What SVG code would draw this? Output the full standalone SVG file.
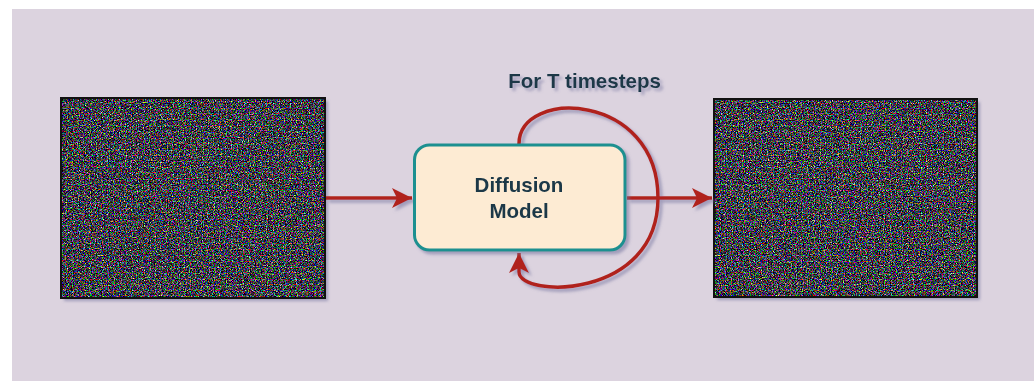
<svg xmlns="http://www.w3.org/2000/svg" width="1034" height="381" viewBox="0 0 1034 381">
  <style>
    .lbl { font-family: "Liberation Sans", Arial, sans-serif; font-weight: bold; font-size: 20.5px; fill: #1a3747; text-anchor: middle; }
    .conn { fill: none; stroke: #b0241c; stroke-width: 3.5; }
    .frame { fill: none; stroke: #111111; stroke-width: 2; }
  </style>
  <defs>
    <filter id="shadow" x="-10%" y="-10%" width="130%" height="140%">
      <feDropShadow dx="3" dy="3" stdDeviation="1.6" flood-color="#6f6f9c" flood-opacity="0.55"/>
    </filter>
    <filter id="noise" x="0" y="0" width="1" height="1" filterUnits="objectBoundingBox" color-interpolation-filters="sRGB">
      <feTurbulence type="fractalNoise" baseFrequency="0.83" numOctaves="2" seed="11" result="t"/>
      <feComponentTransfer in="t">
        <feFuncR type="linear" slope="3.0" intercept="-1.3"/>
        <feFuncG type="linear" slope="3.0" intercept="-1.3"/>
        <feFuncB type="linear" slope="3.0" intercept="-1.25"/>
        <feFuncA type="linear" slope="0" intercept="1"/>
      </feComponentTransfer>
    </filter>
    <marker id="arrow" markerUnits="userSpaceOnUse" markerWidth="24" markerHeight="24" refX="20" refY="11" orient="auto">
      <path d="M0,1 L20,11 L0,21 L5,11 z" fill="#b0241c"/>
    </marker>
  </defs>

  <rect x="0" y="0" width="1034" height="381" fill="#ffffff"/>
  <rect x="12" y="9" width="1022" height="372" fill="#dcd3df"/>

  <g id="input-image">
    <rect x="61" y="98" width="264" height="200" fill="#3a2f3a" filter="url(#shadow)"/>
    <rect x="61" y="98" width="264" height="200" fill="#000" filter="url(#noise)"/>
    <rect x="61" y="98" width="264" height="200" class="frame"/>
  </g>

  <g id="output-image">
    <rect x="714" y="99" width="263" height="198" fill="#3a2f3a" filter="url(#shadow)"/>
    <rect x="714" y="99" width="263" height="198" fill="#000" filter="url(#noise)"/>
    <rect x="714" y="99" width="263" height="198" class="frame"/>
  </g>

  <g id="connectors" filter="url(#shadow)">
    <line x1="326" y1="198" x2="412" y2="198" class="conn" marker-end="url(#arrow)"/>
    <line x1="627" y1="198" x2="712" y2="198" class="conn" marker-end="url(#arrow)"/>
    <path d="M519,144 C519,88 658,92 658,198 C658,300 519,298 519,272 L519,253" class="conn" marker-end="url(#arrow)"/>
  </g>

  <g id="diffusion-model" filter="url(#shadow)">
    <rect x="414.5" y="145" width="210.5" height="105" rx="15" ry="15" fill="#fdebd3" stroke="#1e9090" stroke-width="3"/>
    <text x="519" y="192" class="lbl">Diffusion</text>
    <text x="519" y="218" class="lbl">Model</text>
  </g>

  <g id="loop-label" filter="url(#shadow)">
    <text x="584.5" y="88" class="lbl">For T timesteps</text>
  </g>
</svg>
